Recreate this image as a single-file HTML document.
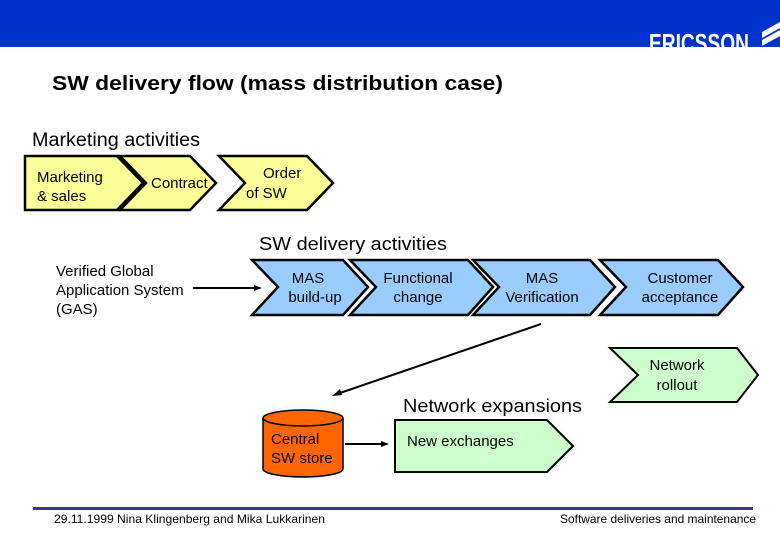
<!DOCTYPE html>
<html><head><meta charset="utf-8"><style>
body{margin:0;width:780px;height:540px;overflow:hidden;background:#fff;font-family:"Liberation Sans",sans-serif}
</style></head><body>
<svg width="780" height="540" xmlns="http://www.w3.org/2000/svg" font-family="Liberation Sans, sans-serif">
<rect x="0" y="0" width="780" height="47" fill="#0033cc"/>
<text x="649" y="52" font-size="26" font-weight="bold" fill="#fff" textLength="100" lengthAdjust="spacingAndGlyphs">ERICSSON</text>
<g fill="#fff"><path d="M762 40 L780 30 L780 36 L762 46Z"/><path d="M762 32 L780 22 L780 28 L762 38Z"/></g>
<rect x="0" y="47" width="780" height="10" fill="#fff"/>
<text x="52" y="90" font-size="20" font-weight="bold" textLength="451" lengthAdjust="spacingAndGlyphs">SW delivery flow (mass distribution case)</text>
<text x="32" y="146" font-size="19" textLength="168" lengthAdjust="spacingAndGlyphs">Marketing activities</text>
<g stroke="#000" stroke-width="2.5" fill="#ffff99">
<polygon points="25,156 117,156 143,183 117,210 25,210"/>
<polygon points="120,156 190,156 216,183 190,210 120,210 146,183"/>
<polygon points="219,156 307,156 333,183 307,210 219,210 245,183"/>
</g>
<g font-size="15" fill="#000">
<text x="37" y="182">Marketing</text><text x="37" y="201">&amp; sales</text>
<text x="151" y="188">Contract</text>
<text x="263" y="178">Order</text><text x="246" y="198">of SW</text>
</g>
<text x="259" y="250" font-size="18" textLength="188" lengthAdjust="spacingAndGlyphs">SW delivery activities</text>
<g font-size="15"><text x="56" y="276">Verified Global</text><text x="56" y="295">Application System</text><text x="56" y="314">(GAS)</text></g>
<g stroke="#000" stroke-width="2" fill="#000">
<line x1="193" y1="288" x2="256" y2="288"/><polygon points="262,288 254,285 254,291" stroke="none"/>
<line x1="541" y1="324" x2="340" y2="393"/><polygon points="332,396 340,389 342,395" stroke="none"/>
<line x1="345" y1="444" x2="382" y2="444"/><polygon points="389,444 381,441 381,447" stroke="none"/>
</g>
<g stroke="#000" stroke-width="2.5" fill="#99ccff">
<polygon points="252,260 343,260 368,287 343,315 252,315 278,287"/>
<polygon points="350,260 468,260 493,287 468,315 350,315 376,287"/>
<polygon points="473,260 590,260 615,287 590,315 473,315 499,287"/>
<polygon points="600,260 718,260 743,287 718,315 600,315 626,287"/>
</g>
<g font-size="15" text-anchor="middle">
<text x="308" y="283">MAS</text><text x="315" y="302">build-up</text>
<text x="418" y="283">Functional</text><text x="418" y="302">change</text>
<text x="542" y="283">MAS</text><text x="542" y="302">Verification</text>
<text x="680" y="283">Customer</text><text x="680" y="302">acceptance</text>
</g>
<polygon points="610,348 737,348 758,375 737,402 610,402 638,375" fill="#ccffcc" stroke="#000" stroke-width="2"/>
<g font-size="15" text-anchor="middle"><text x="677" y="370">Network</text><text x="677" y="390">rollout</text></g>
<text x="403" y="412" font-size="18" textLength="179" lengthAdjust="spacingAndGlyphs">Network expansions</text>
<polygon points="395,420 547,420 573,446 547,472 395,472" fill="#ccffcc" stroke="#000" stroke-width="2"/>
<text x="407" y="446" font-size="15">New exchanges</text>
<path d="M263,418 L263,469 A40,8 0 0 0 343,469 L343,418" fill="#ff6600" stroke="#000" stroke-width="1.5"/>
<ellipse cx="303" cy="418" rx="40" ry="8" fill="#ff6600" stroke="#000" stroke-width="1.5"/>
<g font-size="15" fill="#000"><text x="271" y="444">Central</text><text x="271" y="463">SW store</text></g>
<rect x="33" y="507" width="720" height="3" fill="#1f3f99"/>
<text x="54" y="523" font-size="12" textLength="271" lengthAdjust="spacingAndGlyphs">29.11.1999  Nina Klingenberg and Mika Lukkarinen</text>
<text x="560" y="523" font-size="12" textLength="196" lengthAdjust="spacingAndGlyphs">Software deliveries and maintenance</text>
</svg>
</body></html>
